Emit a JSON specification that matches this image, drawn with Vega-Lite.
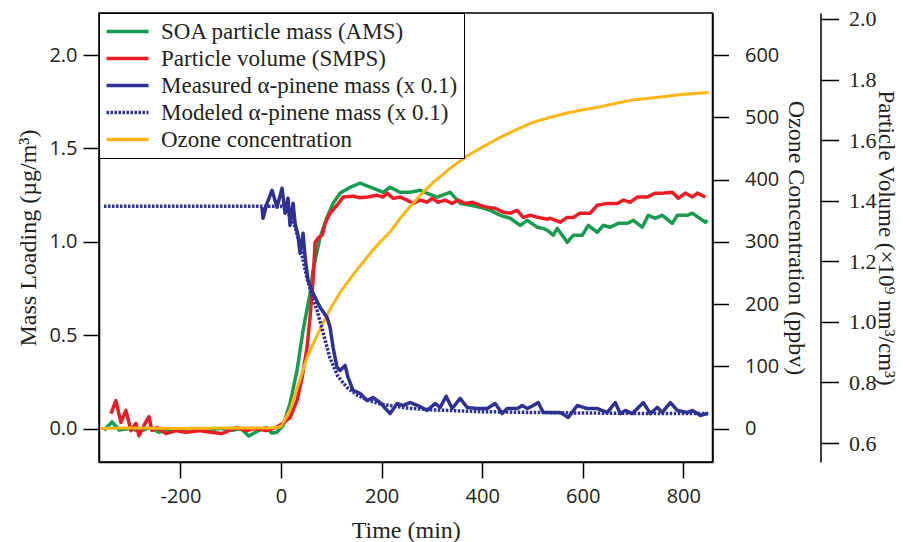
{
 "$schema": "https://vega.github.io/schema/vega-lite/v6.json",
 "width": 613.5,
 "height": 449,
 "autosize": {"type": "none"},
 "padding": {"left": 99, "top": 13, "right": 190, "bottom": 80},
 "config": {
  "view": {"stroke": "black", "strokeWidth": 1.5},
  "axis": {"domainColor": "black", "domainWidth": 1.5, "tickColor": "black", "tickWidth": 1.5, "tickSize": 16, "grid": false, "labelColor": "#231f20", "labelFont": "Open Sans", "labelFontSize": 20, "titleFont": "Liberation Serif", "titleFontSize": 24, "titleFontWeight": "normal", "titleColor": "#231f20"},
  "legend": {"orient": "top-left", "offset": 0, "strokeColor": "black", "fillColor": "white", "padding": 6, "symbolType": "M-2,0H2", "symbolSize": 441, "symbolStrokeWidth": 3.5, "symbolOffset": 10, "labelFont": "Liberation Serif", "labelFontSize": 23, "labelColor": "#231f20", "labelOffset": 21, "labelLimit": 500, "rowPadding": 2, "title": null}
 },
 "datasets": {
  "soa": [
   {"t": -352, "v": -0.01}, {"t": -336, "v": 0.035}, {"t": -322, "v": -0.008}, {"t": -300, "v": 0.0}, {"t": -280, "v": -0.015}, {"t": -260, "v": 0.005}, {"t": -243, "v": -0.02}, {"t": -220, "v": -0.005}, {"t": -200, "v": -0.01}, {"t": -180, "v": 0.0}, {"t": -160, "v": -0.01}, {"t": -140, "v": -0.005}, {"t": -120, "v": 0.0}, {"t": -97, "v": -0.01}, {"t": -80, "v": 0.0}, {"t": -64, "v": -0.04}, {"t": -44, "v": -0.01}, {"t": -30, "v": 0.005}, {"t": -18, "v": -0.025}, {"t": -8, "v": -0.02}, {"t": 4, "v": 0.016}, {"t": 17.9, "v": 0.134}, {"t": 31.8, "v": 0.311}, {"t": 43.8, "v": 0.525}, {"t": 57.7, "v": 0.724}, {"t": 63.7, "v": 0.847}, {"t": 77.6, "v": 1.024}, {"t": 91.5, "v": 1.131}, {"t": 103.5, "v": 1.206}, {"t": 117.4, "v": 1.26}, {"t": 137.3, "v": 1.292}, {"t": 157.2, "v": 1.314}, {"t": 183.1, "v": 1.287}, {"t": 203, "v": 1.265}, {"t": 216.9, "v": 1.292}, {"t": 236.8, "v": 1.265}, {"t": 256.7, "v": 1.265}, {"t": 276.6, "v": 1.276}, {"t": 290.5, "v": 1.26}, {"t": 310.4, "v": 1.239}, {"t": 336.3, "v": 1.265}, {"t": 356.2, "v": 1.206}, {"t": 376.1, "v": 1.196}, {"t": 396, "v": 1.185}, {"t": 415.9, "v": 1.169}, {"t": 435.8, "v": 1.142}, {"t": 455.7, "v": 1.126}, {"t": 475.6, "v": 1.088}, {"t": 489.6, "v": 1.115}, {"t": 509.5, "v": 1.078}, {"t": 521.4, "v": 1.072}, {"t": 529.4, "v": 1.062}, {"t": 541.3, "v": 1.035}, {"t": 549.3, "v": 1.072}, {"t": 569.2, "v": 0.997}, {"t": 581.1, "v": 1.035}, {"t": 599, "v": 1.035}, {"t": 610.9, "v": 1.088}, {"t": 628.9, "v": 1.051}, {"t": 640.8, "v": 1.088}, {"t": 654.7, "v": 1.078}, {"t": 670.6, "v": 1.099}, {"t": 688.6, "v": 1.099}, {"t": 700.5, "v": 1.115}, {"t": 718.4, "v": 1.078}, {"t": 730.3, "v": 1.142}, {"t": 744.3, "v": 1.126}, {"t": 758.2, "v": 1.142}, {"t": 778.1, "v": 1.099}, {"t": 788.1, "v": 1.142}, {"t": 808, "v": 1.142}, {"t": 817.9, "v": 1.153}, {"t": 829.9, "v": 1.131}, {"t": 843.8, "v": 1.105}, {"t": 847.8, "v": 1.115}
  ],
  "smps": [
   {"t": -338.3, "v": 0.697}, {"t": -328.4, "v": 0.74}, {"t": -318.4, "v": 0.668}, {"t": -308.5, "v": 0.708}, {"t": -298.5, "v": 0.641}, {"t": -288.6, "v": 0.665}, {"t": -282.6, "v": 0.624}, {"t": -272.6, "v": 0.658}, {"t": -262.7, "v": 0.687}, {"t": -256.7, "v": 0.641}, {"t": -246.8, "v": 0.651}, {"t": -228.9, "v": 0.631}, {"t": -209, "v": 0.641}, {"t": -189.1, "v": 0.635}, {"t": -163.2, "v": 0.641}, {"t": -137.3, "v": 0.635}, {"t": -117.4, "v": 0.631}, {"t": -89.6, "v": 0.651}, {"t": -69.7, "v": 0.641}, {"t": -49.8, "v": 0.648}, {"t": -29.9, "v": 0.641}, {"t": -10, "v": 0.651}, {"t": 6, "v": 0.668}, {"t": 17.9, "v": 0.684}, {"t": 31.8, "v": 0.74}, {"t": 41.8, "v": 0.816}, {"t": 51.7, "v": 0.915}, {"t": 57.7, "v": 1.015}, {"t": 63.7, "v": 1.137}, {"t": 67.7, "v": 1.262}, {"t": 73.6, "v": 1.276}, {"t": 81.6, "v": 1.286}, {"t": 87.6, "v": 1.325}, {"t": 97.5, "v": 1.359}, {"t": 111.4, "v": 1.385}, {"t": 123.4, "v": 1.412}, {"t": 143.3, "v": 1.415}, {"t": 157, "v": 1.41}, {"t": 171.1, "v": 1.412}, {"t": 191, "v": 1.418}, {"t": 203, "v": 1.412}, {"t": 210.9, "v": 1.425}, {"t": 222.9, "v": 1.408}, {"t": 236.8, "v": 1.412}, {"t": 250.7, "v": 1.402}, {"t": 262.7, "v": 1.391}, {"t": 276.6, "v": 1.402}, {"t": 290.5, "v": 1.395}, {"t": 300.5, "v": 1.408}, {"t": 312.4, "v": 1.395}, {"t": 326.4, "v": 1.402}, {"t": 340.3, "v": 1.391}, {"t": 352.2, "v": 1.402}, {"t": 366.2, "v": 1.391}, {"t": 380.1, "v": 1.395}, {"t": 396, "v": 1.385}, {"t": 409.9, "v": 1.378}, {"t": 425.9, "v": 1.375}, {"t": 441.8, "v": 1.362}, {"t": 455.7, "v": 1.359}, {"t": 469.7, "v": 1.368}, {"t": 481.6, "v": 1.345}, {"t": 495.5, "v": 1.352}, {"t": 511.4, "v": 1.345}, {"t": 529.4, "v": 1.339}, {"t": 535.3, "v": 1.342}, {"t": 555.2, "v": 1.329}, {"t": 569.2, "v": 1.345}, {"t": 581.1, "v": 1.345}, {"t": 595, "v": 1.359}, {"t": 614.9, "v": 1.359}, {"t": 628.9, "v": 1.385}, {"t": 648.8, "v": 1.391}, {"t": 668.7, "v": 1.391}, {"t": 680.6, "v": 1.402}, {"t": 694.5, "v": 1.395}, {"t": 708.5, "v": 1.412}, {"t": 728.4, "v": 1.412}, {"t": 744.3, "v": 1.425}, {"t": 760.2, "v": 1.425}, {"t": 778.1, "v": 1.428}, {"t": 790, "v": 1.408}, {"t": 804, "v": 1.425}, {"t": 817.9, "v": 1.412}, {"t": 827.9, "v": 1.425}, {"t": 843.8, "v": 1.412}
  ],
  "ozone": [
   {"t": -360, "v": 0}, {"t": -300, "v": 1}, {"t": -200, "v": 0}, {"t": -100, "v": 1}, {"t": -20, "v": 1}, {"t": 0, "v": 3}, {"t": 4, "v": 9}, {"t": 18, "v": 30}, {"t": 35, "v": 72}, {"t": 52, "v": 115}, {"t": 68, "v": 143}, {"t": 84, "v": 170}, {"t": 100, "v": 195}, {"t": 117, "v": 218}, {"t": 134, "v": 237}, {"t": 151, "v": 255}, {"t": 167, "v": 271}, {"t": 183, "v": 287}, {"t": 200, "v": 302}, {"t": 217, "v": 316}, {"t": 237, "v": 338}, {"t": 257, "v": 357}, {"t": 277, "v": 375}, {"t": 302, "v": 395}, {"t": 336, "v": 418}, {"t": 370, "v": 438}, {"t": 400, "v": 452}, {"t": 436, "v": 468}, {"t": 470, "v": 481}, {"t": 501, "v": 492}, {"t": 535, "v": 500}, {"t": 569, "v": 507}, {"t": 600, "v": 512}, {"t": 635, "v": 517}, {"t": 668, "v": 523}, {"t": 700, "v": 528}, {"t": 735, "v": 531}, {"t": 768, "v": 534}, {"t": 800, "v": 537}, {"t": 834, "v": 539}, {"t": 850, "v": 540}
  ],
  "model": [
   {"t": -352, "v": 1.19}, {"t": 0, "v": 1.19}, {"t": 10, "v": 1.17}, {"t": 20, "v": 1.13}, {"t": 28, "v": 1.08}, {"t": 40, "v": 0.95}, {"t": 52, "v": 0.8}, {"t": 62, "v": 0.71}, {"t": 72, "v": 0.63}, {"t": 84, "v": 0.51}, {"t": 97, "v": 0.38}, {"t": 113, "v": 0.28}, {"t": 131, "v": 0.22}, {"t": 151, "v": 0.18}, {"t": 171, "v": 0.153}, {"t": 200, "v": 0.13}, {"t": 250, "v": 0.11}, {"t": 300, "v": 0.1}, {"t": 400, "v": 0.09}, {"t": 500, "v": 0.086}, {"t": 600, "v": 0.083}, {"t": 700, "v": 0.081}, {"t": 850, "v": 0.08}
  ],
  "meas": [
   {"t": -37.8, "v": 1.185}, {"t": -35.8, "v": 1.126}, {"t": -27.9, "v": 1.206}, {"t": -17.9, "v": 1.276}, {"t": -8, "v": 1.185}, {"t": 2, "v": 1.287}, {"t": 8, "v": 1.153}, {"t": 13.9, "v": 1.233}, {"t": 17.9, "v": 1.088}, {"t": 23.9, "v": 1.206}, {"t": 27.9, "v": 1.099}, {"t": 33.8, "v": 1.035}, {"t": 37.8, "v": 0.938}, {"t": 43.8, "v": 1.046}, {"t": 47.8, "v": 0.917}, {"t": 53.7, "v": 0.794}, {"t": 63.7, "v": 0.724}, {"t": 77.6, "v": 0.649}, {"t": 91.5, "v": 0.595}, {"t": 97.5, "v": 0.542}, {"t": 103.5, "v": 0.434}, {"t": 111.4, "v": 0.327}, {"t": 117.4, "v": 0.311}, {"t": 127.4, "v": 0.338}, {"t": 133.3, "v": 0.273}, {"t": 143.3, "v": 0.204}, {"t": 157.2, "v": 0.188}, {"t": 171.1, "v": 0.15}, {"t": 183.1, "v": 0.166}, {"t": 197, "v": 0.139}, {"t": 216.9, "v": 0.08}, {"t": 230.8, "v": 0.134}, {"t": 242.8, "v": 0.123}, {"t": 256.7, "v": 0.139}, {"t": 276.6, "v": 0.118}, {"t": 290.5, "v": 0.097}, {"t": 306.5, "v": 0.134}, {"t": 316.4, "v": 0.113}, {"t": 328.4, "v": 0.172}, {"t": 340.3, "v": 0.107}, {"t": 356.2, "v": 0.161}, {"t": 370.1, "v": 0.113}, {"t": 390, "v": 0.107}, {"t": 409.9, "v": 0.107}, {"t": 425.9, "v": 0.134}, {"t": 439.8, "v": 0.08}, {"t": 449.8, "v": 0.107}, {"t": 469.7, "v": 0.107}, {"t": 479.6, "v": 0.123}, {"t": 489.6, "v": 0.107}, {"t": 501.5, "v": 0.123}, {"t": 511.4, "v": 0.139}, {"t": 521.4, "v": 0.086}, {"t": 541.3, "v": 0.086}, {"t": 555.2, "v": 0.086}, {"t": 571.1, "v": 0.059}, {"t": 589.1, "v": 0.123}, {"t": 609, "v": 0.107}, {"t": 628.9, "v": 0.107}, {"t": 648.8, "v": 0.086}, {"t": 664.7, "v": 0.139}, {"t": 674.6, "v": 0.08}, {"t": 684.6, "v": 0.097}, {"t": 698.5, "v": 0.08}, {"t": 720.4, "v": 0.139}, {"t": 734.3, "v": 0.08}, {"t": 748.3, "v": 0.113}, {"t": 758.2, "v": 0.086}, {"t": 774.1, "v": 0.139}, {"t": 788.1, "v": 0.097}, {"t": 808, "v": 0.086}, {"t": 817.9, "v": 0.097}, {"t": 833.8, "v": 0.07}, {"t": 847.8, "v": 0.08}
  ]
 },
 "encoding": {
  "x": {"field": "t", "type": "quantitative", "scale": {"domain": [-362, 858], "nice": false, "zero": false}, "axis": {"values": [-200, 0, 200, 400, 600, 800], "title": "Time (min)", "labelExpr": "toString(datum.value)", "labelPadding": 8, "titlePadding": 12}}
 },
 "layer": [
  {
   "data": {"name": "soa"},
   "mark": {"type": "line", "strokeWidth": 3.5, "strokeJoin": "round"},
   "encoding": {
    "y": {"field": "v", "type": "quantitative", "scale": {"domain": [-0.1794, 2.2255], "nice": false, "zero": false}, "axis": {"orient": "left", "values": [0, 0.5, 1, 1.5, 2], "format": ".1f", "title": "Mass Loading (µg/m³)", "labelPadding": 6, "titlePadding": 8}},
    "color": {"datum": "SOA particle mass (AMS)", "type": "nominal", "scale": {"domain": ["SOA particle mass (AMS)", "Particle volume (SMPS)", "Measured α-pinene mass (x 0.1)", "Modeled α-pinene mass (x 0.1)", "Ozone concentration"], "range": ["#189B4E", "#EC1C24", "#2E3192", "#2E3192", "#FDB515"]}, "legend": {"title": null}},
    "strokeDash": {"datum": "SOA particle mass (AMS)", "type": "nominal", "scale": {"domain": ["SOA particle mass (AMS)", "Particle volume (SMPS)", "Measured α-pinene mass (x 0.1)", "Modeled α-pinene mass (x 0.1)", "Ozone concentration"], "range": [[1, 0], [1, 0], [1, 0], [2.5, 1.5], [1, 0]]}, "legend": {"title": null}}
   }
  },
  {
   "data": {"name": "smps"},
   "mark": {"type": "line", "strokeWidth": 3.5, "strokeJoin": "round"},
   "encoding": {
    "y": {"field": "v", "type": "quantitative", "scale": {"domain": [0.5373, 2.0198], "nice": false, "zero": false}, "axis": {"orient": "right", "offset": 108, "values": [0.6, 0.8, 1.0, 1.2, 1.4, 1.6, 1.8, 2.0], "format": ".1f", "tickSize": 18, "labelFont": "Liberation Serif", "labelFontSize": 22, "labelPadding": 10, "title": "Particle Volume (×10⁹ nm³/cm³)", "titleFontSize": 23, "titlePadding": -3}},
    "color": {"datum": "Particle volume (SMPS)", "type": "nominal", "scale": {"domain": ["SOA particle mass (AMS)", "Particle volume (SMPS)", "Measured α-pinene mass (x 0.1)", "Modeled α-pinene mass (x 0.1)", "Ozone concentration"], "range": ["#189B4E", "#EC1C24", "#2E3192", "#2E3192", "#FDB515"]}, "legend": {"title": null}},
    "strokeDash": {"datum": "Particle volume (SMPS)", "type": "nominal", "scale": {"domain": ["SOA particle mass (AMS)", "Particle volume (SMPS)", "Measured α-pinene mass (x 0.1)", "Modeled α-pinene mass (x 0.1)", "Ozone concentration"], "range": [[1, 0], [1, 0], [1, 0], [2.5, 1.5], [1, 0]]}, "legend": {"title": null}}
   }
  },
  {
   "data": {"name": "ozone"},
   "mark": {"type": "line", "strokeWidth": 3, "strokeJoin": "round"},
   "encoding": {
    "y": {"field": "v", "type": "quantitative", "scale": {"domain": [-53.8, 667.7], "nice": false, "zero": false}, "axis": {"orient": "right", "values": [0, 100, 200, 300, 400, 500, 600], "labelPadding": 16, "title": "Ozone Concentration (ppbv)", "titlePadding": 5}},
    "color": {"datum": "Ozone concentration", "type": "nominal", "scale": {"domain": ["SOA particle mass (AMS)", "Particle volume (SMPS)", "Measured α-pinene mass (x 0.1)", "Modeled α-pinene mass (x 0.1)", "Ozone concentration"], "range": ["#189B4E", "#EC1C24", "#2E3192", "#2E3192", "#FDB515"]}, "legend": {"title": null}},
    "strokeDash": {"datum": "Ozone concentration", "type": "nominal", "scale": {"domain": ["SOA particle mass (AMS)", "Particle volume (SMPS)", "Measured α-pinene mass (x 0.1)", "Modeled α-pinene mass (x 0.1)", "Ozone concentration"], "range": [[1, 0], [1, 0], [1, 0], [2.5, 1.5], [1, 0]]}, "legend": {"title": null}}
   }
  },
  {
   "data": {"name": "model"},
   "mark": {"type": "line", "strokeWidth": 3.5, "strokeCap": "butt"},
   "encoding": {
    "y": {"field": "v", "type": "quantitative", "scale": {"domain": [-0.1794, 2.2255], "nice": false, "zero": false}, "axis": null},
    "color": {"datum": "Modeled α-pinene mass (x 0.1)", "type": "nominal", "scale": {"domain": ["SOA particle mass (AMS)", "Particle volume (SMPS)", "Measured α-pinene mass (x 0.1)", "Modeled α-pinene mass (x 0.1)", "Ozone concentration"], "range": ["#189B4E", "#EC1C24", "#2E3192", "#2E3192", "#FDB515"]}, "legend": {"title": null}},
    "strokeDash": {"datum": "Modeled α-pinene mass (x 0.1)", "type": "nominal", "scale": {"domain": ["SOA particle mass (AMS)", "Particle volume (SMPS)", "Measured α-pinene mass (x 0.1)", "Modeled α-pinene mass (x 0.1)", "Ozone concentration"], "range": [[1, 0], [1, 0], [1, 0], [2.5, 1.5], [1, 0]]}, "legend": {"title": null}}
   }
  },
  {
   "data": {"name": "meas"},
   "mark": {"type": "line", "strokeWidth": 3.5, "strokeJoin": "round"},
   "encoding": {
    "y": {"field": "v", "type": "quantitative", "scale": {"domain": [-0.1794, 2.2255], "nice": false, "zero": false}, "axis": null},
    "color": {"datum": "Measured α-pinene mass (x 0.1)", "type": "nominal", "scale": {"domain": ["SOA particle mass (AMS)", "Particle volume (SMPS)", "Measured α-pinene mass (x 0.1)", "Modeled α-pinene mass (x 0.1)", "Ozone concentration"], "range": ["#189B4E", "#EC1C24", "#2E3192", "#2E3192", "#FDB515"]}, "legend": {"title": null}},
    "strokeDash": {"datum": "Measured α-pinene mass (x 0.1)", "type": "nominal", "scale": {"domain": ["SOA particle mass (AMS)", "Particle volume (SMPS)", "Measured α-pinene mass (x 0.1)", "Modeled α-pinene mass (x 0.1)", "Ozone concentration"], "range": [[1, 0], [1, 0], [1, 0], [2.5, 1.5], [1, 0]]}, "legend": {"title": null}}
   }
  }
 ],
 "resolve": {"scale": {"y": "independent"}, "axis": {"y": "independent"}}
}
